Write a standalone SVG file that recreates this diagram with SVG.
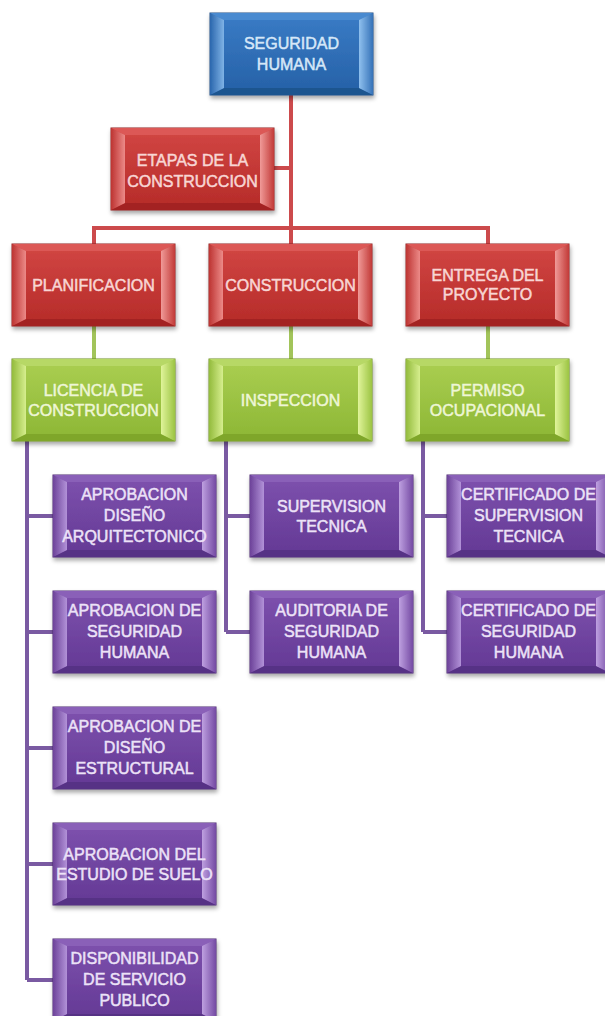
<svg xmlns="http://www.w3.org/2000/svg" xmlns:xlink="http://www.w3.org/1999/xlink" width="605" height="1016" viewBox="0 0 605 1016">
<style>
text{font-family:"Liberation Sans",Arial,sans-serif;font-size:16px;text-anchor:middle;stroke-width:0.5}
.tb{fill:#d6e7f8;stroke:#d6e7f8}.tr{fill:#f8d6d4;stroke:#f8d6d4}.tg{fill:#eef6d6;stroke:#eef6d6}.tp{fill:#ece2f7;stroke:#ece2f7}
.cr{stroke:#cc4a4c;stroke-width:4;fill:none}
.cg{stroke:#a2c45a;stroke-width:4;fill:none}
.cp{stroke:#7a5aa2;stroke-width:4;fill:none}
</style>
<defs>
<filter id="sh" x="-10%" y="-10%" width="125%" height="130%">
<feDropShadow dx="1" dy="3" stdDeviation="2" flood-color="#000" flood-opacity="0.35"/>
</filter>
<linearGradient id="fB" x1="0" y1="0" x2="0" y2="1"><stop offset="0" stop-color="#3a7cc6"/><stop offset="1" stop-color="#2560a6"/></linearGradient>
<linearGradient id="lB" x1="0" y1="0" x2="1" y2="0"><stop offset="0" stop-color="#2a66ad"/><stop offset="1" stop-color="#7fb3e6"/></linearGradient>
<linearGradient id="rB" x1="0" y1="0" x2="1" y2="0"><stop offset="0" stop-color="#8fc0ee"/><stop offset="1" stop-color="#3572b8"/></linearGradient>
<linearGradient id="fR" x1="0" y1="0" x2="0" y2="1"><stop offset="0" stop-color="#d24744"/><stop offset="1" stop-color="#b52a28"/></linearGradient>
<linearGradient id="lR" x1="0" y1="0" x2="1" y2="0"><stop offset="0" stop-color="#bd3432"/><stop offset="1" stop-color="#ec8a88"/></linearGradient>
<linearGradient id="rR" x1="0" y1="0" x2="1" y2="0"><stop offset="0" stop-color="#f09a98"/><stop offset="1" stop-color="#c23a38"/></linearGradient>
<linearGradient id="fG" x1="0" y1="0" x2="0" y2="1"><stop offset="0" stop-color="#abcf52"/><stop offset="1" stop-color="#8cb634"/></linearGradient>
<linearGradient id="lG" x1="0" y1="0" x2="1" y2="0"><stop offset="0" stop-color="#93bb3c"/><stop offset="1" stop-color="#d6ee8e"/></linearGradient>
<linearGradient id="rG" x1="0" y1="0" x2="1" y2="0"><stop offset="0" stop-color="#e0f49a"/><stop offset="1" stop-color="#9cc443"/></linearGradient>
<linearGradient id="fP" x1="0" y1="0" x2="0" y2="1"><stop offset="0" stop-color="#7e52ae"/><stop offset="1" stop-color="#633894"/></linearGradient>
<linearGradient id="lP" x1="0" y1="0" x2="1" y2="0"><stop offset="0" stop-color="#6c4299"/><stop offset="1" stop-color="#b292d8"/></linearGradient>
<linearGradient id="rP" x1="0" y1="0" x2="1" y2="0"><stop offset="0" stop-color="#bea0e0"/><stop offset="1" stop-color="#744aa3"/></linearGradient>
<g id="boxB">
<rect x="0" y="0" width="163" height="82" fill="url(#fB)" stroke="#1f4f86" stroke-width="1"/>
<polygon points="0,0 163,0 149,7 14,7" fill="#4a8ad0"/>
<polygon points="0,82 163,82 149,75 14,75" fill="#1f548f"/>
<polygon points="0,0 14,7 14,75 0,82" fill="url(#lB)"/>
<polygon points="163,0 149,7 149,75 163,82" fill="url(#rB)"/>
</g>
<g id="boxR">
<rect x="0" y="0" width="163" height="82" fill="url(#fR)" stroke="#8f1f1e" stroke-width="1"/>
<polygon points="0,0 163,0 149,7 14,7" fill="#dc5856"/>
<polygon points="0,82 163,82 149,75 14,75" fill="#a32422"/>
<polygon points="0,0 14,7 14,75 0,82" fill="url(#lR)"/>
<polygon points="163,0 149,7 149,75 163,82" fill="url(#rR)"/>
</g>
<g id="boxG">
<rect x="0" y="0" width="163" height="82" fill="url(#fG)" stroke="#6f9227" stroke-width="1"/>
<polygon points="0,0 163,0 149,7 14,7" fill="#b7d866"/>
<polygon points="0,82 163,82 149,75 14,75" fill="#7fa62c"/>
<polygon points="0,0 14,7 14,75 0,82" fill="url(#lG)"/>
<polygon points="163,0 149,7 149,75 163,82" fill="url(#rG)"/>
</g>
<g id="boxP">
<rect x="0" y="0" width="163" height="82" fill="url(#fP)" stroke="#4b2a72" stroke-width="1"/>
<polygon points="0,0 163,0 149,7 14,7" fill="#8a60b8"/>
<polygon points="0,82 163,82 149,75 14,75" fill="#573085"/>
<polygon points="0,0 14,7 14,75 0,82" fill="url(#lP)"/>
<polygon points="163,0 149,7 149,75 163,82" fill="url(#rP)"/>
</g>
</defs>
<rect width="605" height="1016" fill="#ffffff"/>
<g id="connectors">
<path class="cr" d="M291,94 V244 M274,168 H291 M94,244 V228 H488 V244"/>
<path class="cg" d="M94,326 V359 M291,326 V359 M488,326 V359"/>
<path class="cp" d="M27,441 V980 M27,516 H53 M27,632 H53 M27,748 H53 M27,864 H53 M27,980 H53"/>
<path class="cp" d="M226,441 V632 M226,516 H250 M226,632 H250"/>
<path class="cp" d="M423,441 V632 M423,516 H447 M423,632 H447"/>
</g>
<g id="n-seguridad">
<use xlink:href="#boxB" href="#boxB" x="210" y="13" filter="url(#sh)"/>
<text class="tb" x="291.5" y="49">SEGURIDAD</text>
<text class="tb" x="291.5" y="70">HUMANA</text>
</g>
<g id="n-etapas">
<use xlink:href="#boxR" href="#boxR" x="111" y="128" filter="url(#sh)"/>
<text class="tr" x="192.5" y="166">ETAPAS DE LA</text>
<text class="tr" x="192.5" y="187">CONSTRUCCION</text>
</g>
<g id="n-planificacion">
<use xlink:href="#boxR" href="#boxR" x="12" y="244" filter="url(#sh)"/>
<text class="tr" x="93.5" y="291">PLANIFICACION</text>
</g>
<g id="n-construccion">
<use xlink:href="#boxR" href="#boxR" x="209" y="244" filter="url(#sh)"/>
<text class="tr" x="290.5" y="291">CONSTRUCCION</text>
</g>
<g id="n-entrega">
<use xlink:href="#boxR" href="#boxR" x="406" y="244" filter="url(#sh)"/>
<text class="tr" x="487.5" y="281">ENTREGA DEL</text>
<text class="tr" x="487.5" y="300">PROYECTO</text>
</g>
<g id="n-licencia">
<use xlink:href="#boxG" href="#boxG" x="12" y="359" filter="url(#sh)"/>
<text class="tg" x="93.5" y="396">LICENCIA DE</text>
<text class="tg" x="93.5" y="416">CONSTRUCCION</text>
</g>
<g id="n-inspeccion">
<use xlink:href="#boxG" href="#boxG" x="209" y="359" filter="url(#sh)"/>
<text class="tg" x="290.5" y="406">INSPECCION</text>
</g>
<g id="n-permiso">
<use xlink:href="#boxG" href="#boxG" x="406" y="359" filter="url(#sh)"/>
<text class="tg" x="487.5" y="396">PERMISO</text>
<text class="tg" x="487.5" y="416">OCUPACIONAL</text>
</g>
<g id="n-aprob-arq">
<use xlink:href="#boxP" href="#boxP" x="53" y="475" filter="url(#sh)"/>
<text class="tp" x="134.5" y="500">APROBACION</text>
<text class="tp" x="134.5" y="521">DISEÑO</text>
<text class="tp" x="134.5" y="542">ARQUITECTONICO</text>
</g>
<g id="n-aprob-seg">
<use xlink:href="#boxP" href="#boxP" x="53" y="591" filter="url(#sh)"/>
<text class="tp" x="134.5" y="616">APROBACION DE</text>
<text class="tp" x="134.5" y="637">SEGURIDAD</text>
<text class="tp" x="134.5" y="658">HUMANA</text>
</g>
<g id="n-aprob-est">
<use xlink:href="#boxP" href="#boxP" x="53" y="707" filter="url(#sh)"/>
<text class="tp" x="134.5" y="732">APROBACION DE</text>
<text class="tp" x="134.5" y="753">DISEÑO</text>
<text class="tp" x="134.5" y="774">ESTRUCTURAL</text>
</g>
<g id="n-aprob-suelo">
<use xlink:href="#boxP" href="#boxP" x="53" y="823" filter="url(#sh)"/>
<text class="tp" x="134.5" y="860">APROBACION DEL</text>
<text class="tp" x="134.5" y="880">ESTUDIO DE SUELO</text>
</g>
<g id="n-disponibilidad">
<use xlink:href="#boxP" href="#boxP" x="53" y="939" filter="url(#sh)"/>
<text class="tp" x="134.5" y="964">DISPONIBILIDAD</text>
<text class="tp" x="134.5" y="985">DE SERVICIO</text>
<text class="tp" x="134.5" y="1006">PUBLICO</text>
</g>
<g id="n-supervision">
<use xlink:href="#boxP" href="#boxP" x="250" y="475" filter="url(#sh)"/>
<text class="tp" x="331.5" y="512">SUPERVISION</text>
<text class="tp" x="331.5" y="532">TECNICA</text>
</g>
<g id="n-auditoria">
<use xlink:href="#boxP" href="#boxP" x="250" y="591" filter="url(#sh)"/>
<text class="tp" x="331.5" y="616">AUDITORIA DE</text>
<text class="tp" x="331.5" y="637">SEGURIDAD</text>
<text class="tp" x="331.5" y="658">HUMANA</text>
</g>
<g id="n-cert-sup">
<use xlink:href="#boxP" href="#boxP" x="447" y="475" filter="url(#sh)"/>
<text class="tp" x="528.5" y="500">CERTIFICADO DE</text>
<text class="tp" x="528.5" y="521">SUPERVISION</text>
<text class="tp" x="528.5" y="542">TECNICA</text>
</g>
<g id="n-cert-seg">
<use xlink:href="#boxP" href="#boxP" x="447" y="591" filter="url(#sh)"/>
<text class="tp" x="528.5" y="616">CERTIFICADO DE</text>
<text class="tp" x="528.5" y="637">SEGURIDAD</text>
<text class="tp" x="528.5" y="658">HUMANA</text>
</g>
</svg>
